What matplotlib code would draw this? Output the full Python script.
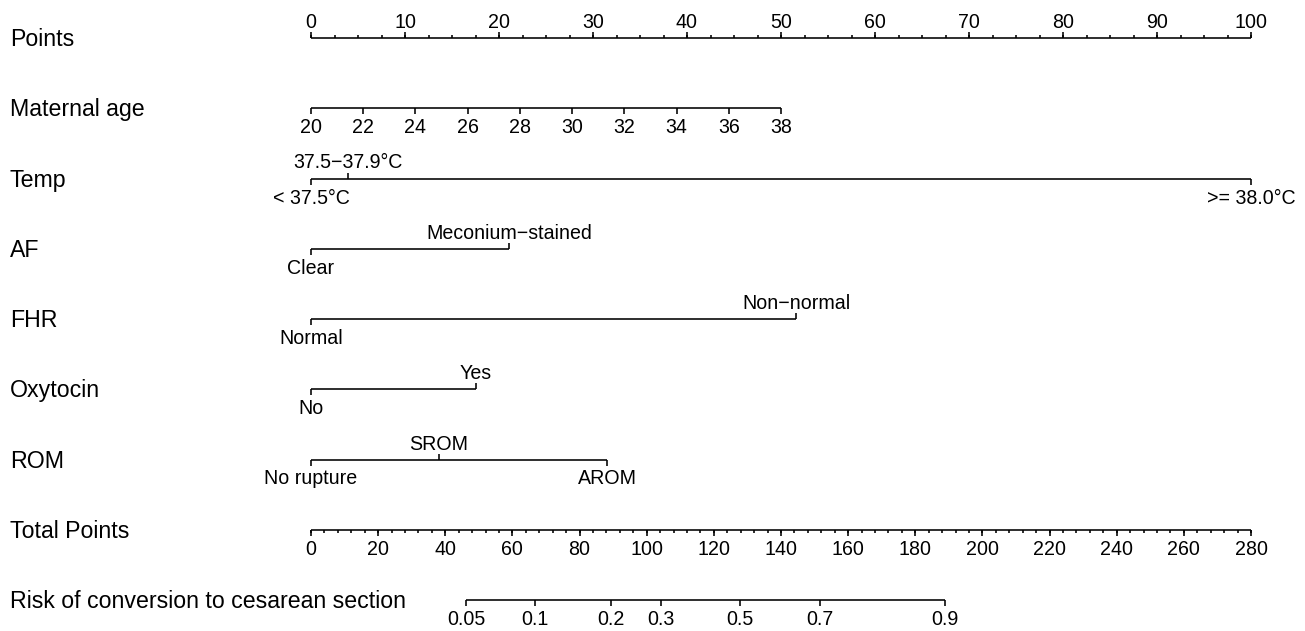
import numpy as np
import matplotlib
matplotlib.use("Agg")
from matplotlib import pyplot as plt
from matplotlib.transforms import offset_copy, blended_transform_factory

plt.rcParams['font.family'] = ['Liberation Sans', 'DejaVu Sans']

# Row names, top to bottom
row_names = ["Points", "Maternal age", "Temp", "AF", "FHR", "Oxytocin",
             "ROM", "Total Points", "Risk of conversion to cesarean section"]

# Points scale
points_ticks = [0, 10, 20, 30, 40, 50, 60, 70, 80, 90, 100]

# Maternal age: 20 years -> 0 points, 38 years -> 50 points
age_ticks = [20, 22, 24, 26, 28, 30, 32, 34, 36, 38]
age_range = [20, 38]
age_points = [0, 50]

# Categorical predictors: labels, label side (+1 above, -1 below)
temp_labels = ["< 37.5°C", "37.5\u221237.9°C", ">= 38.0°C"]
temp_points = [0, 3.9, 100]
temp_side = [-1, 1, -1]

af_labels = ["Clear", "Meconium\u2212stained"]
af_points = [0, 21.1]
af_side = [-1, 1]

fhr_labels = ["Normal", "Non\u2212normal"]
fhr_points = [0, 51.6]
fhr_side = [-1, 1]

oxy_labels = ["No", "Yes"]
oxy_points = [0, 17.5]
oxy_side = [-1, 1]

rom_labels = ["No rupture", "SROM", "AROM"]
rom_points = [0, 13.6, 31.5]
rom_side = [-1, 1, -1]

# Total points scale
total_ticks = list(range(0, 281, 20))
total_max = 280

# Risk labels and total points where they sit
risk_labels = ["0.05", "0.1", "0.2", "0.3", "0.5", "0.7", "0.9"]
risk_total = [46.2, 66.8, 89.3, 104.3, 127.8, 151.5, 188.9]

W, H = 1305, 631
fig = plt.figure(figsize=(W / 100, H / 100), dpi=100)
x0, x1 = 311, 1251
y_top, y_bot = 38, 600
ax = fig.add_axes([x0 / W, (H - y_bot) / H, (x1 - x0) / W, (y_bot - y_top) / H])
ax.set_xlim(0, 100)
ax.set_ylim(len(row_names) - 1, 0)
ax.axis("off")

row_px = (y_bot - y_top) / (len(row_names) - 1)
LW = 1.15
FS_TICK = 14.1
FS_NAME = 16.7


def px(n):
    return n / row_px


def draw_scale(row, pos, labels, side, minor=None, minor_side=None):
    ax.plot([min(pos), max(pos)], [row, row], color="black", lw=LW,
            clip_on=False, solid_capstyle="butt")
    for p, lab, s in zip(pos, labels, side):
        ax.plot([p, p], [row, row - s * px(6)], color="black", lw=LW,
                clip_on=False, solid_capstyle="butt")
        if s > 0:
            tr = offset_copy(ax.transData, fig=fig, y=10 * 0.72, units="points")
            ax.text(p, row, lab, ha="center", va="baseline", fontsize=FS_TICK,
                    transform=tr, clip_on=False)
        else:
            tr = offset_copy(ax.transData, fig=fig, y=-10 * 0.72, units="points")
            ax.text(p, row, lab, ha="center", va="top", fontsize=FS_TICK,
                    transform=tr, clip_on=False)
    if minor is not None:
        for p in minor:
            ax.plot([p, p], [row, row - minor_side * px(3.3)], color="black",
                    lw=LW, clip_on=False, solid_capstyle="butt")


# Row names on the left
name_tr = blended_transform_factory(fig.transFigure, ax.transData)
for i, name in enumerate(row_names):
    tr = offset_copy(name_tr, fig=fig, y=-8 * 0.72, units="points")
    ax.text(10 / W, i, name, ha="left", va="baseline", fontsize=FS_NAME,
            transform=tr, clip_on=False)

# Points
draw_scale(0, points_ticks, [str(v) for v in points_ticks], [1] * len(points_ticks),
           minor=np.arange(0, 100.01, 2.5), minor_side=1)

# Maternal age
age_pos = np.interp(age_ticks, age_range, age_points)
draw_scale(1, age_pos, [str(v) for v in age_ticks], [-1] * len(age_ticks))

# Categorical rows
draw_scale(2, temp_points, temp_labels, temp_side)
draw_scale(3, af_points, af_labels, af_side)
draw_scale(4, fhr_points, fhr_labels, fhr_side)
draw_scale(5, oxy_points, oxy_labels, oxy_side)
draw_scale(6, rom_points, rom_labels, rom_side)

# Total points
to_pts = 100 / total_max
draw_scale(7, [t * to_pts for t in total_ticks], [str(v) for v in total_ticks],
           [-1] * len(total_ticks),
           minor=np.arange(0, total_max + 0.01, 4) * to_pts, minor_side=-1)

# Risk
draw_scale(8, [t * to_pts for t in risk_total], risk_labels, [-1] * len(risk_labels))

fig.savefig("out.png", dpi=100)
